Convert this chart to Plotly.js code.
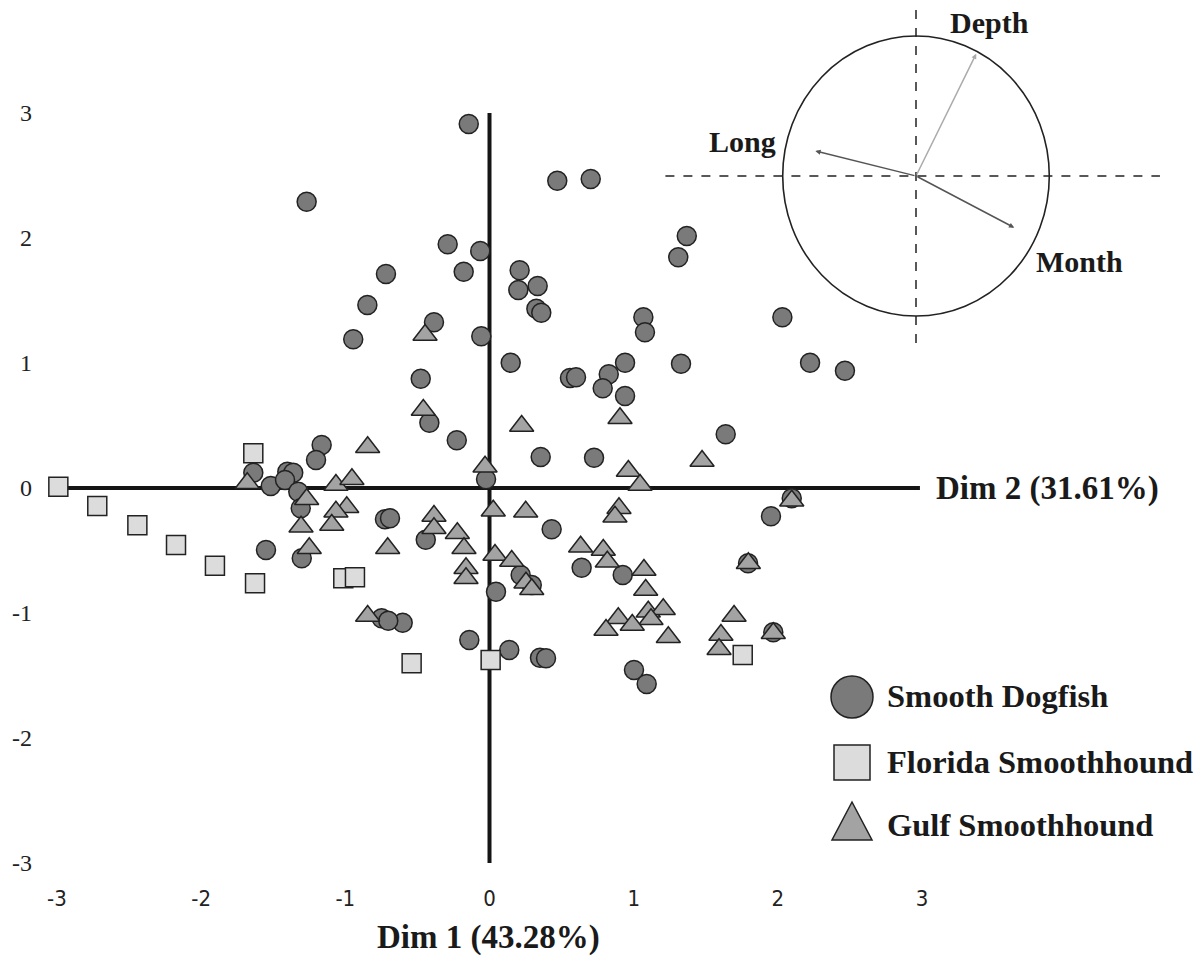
<!DOCTYPE html>
<html>
<head>
<meta charset="utf-8">
<script src="https://cdn.plot.ly/plotly-3.0.1.min.js"></script>
<style>html,body{margin:0;padding:0;background:#fff;}#chart{width:1200px;height:958px;}</style>
</head>
<body>
<div id="chart"></div>
<script>
// ---- Data ----
const dogfishX = [-0.144,-1.268,0.470,0.702,-0.290,-0.064,-0.179,0.209,0.200,0.334,0.325,0.359,1.368,1.309,-0.385,-0.057,-0.477,0.147,0.558,0.600,0.827,0.785,0.940,0.940,1.067,1.078,1.328,2.031,2.223,2.465,-0.718,-0.847,-0.945,-0.417,-0.227,0.355,0.725,1.638,-0.024,2.096,1.952,-0.442,0.431,0.639,0.216,0.293,0.045,0.924,1.793,1.968,-0.602,-0.748,-0.702,-0.140,0.137,0.350,0.392,1.002,1.090,-1.638,-1.517,-1.402,-1.361,-1.418,-1.164,-1.203,-1.326,-1.309,-0.725,-0.690,-1.550,-1.302];
const dogfishY = [2.912,2.290,2.458,2.472,1.950,1.896,1.730,1.742,1.584,1.616,1.434,1.402,2.016,1.846,1.326,1.214,0.874,1.002,0.880,0.886,0.910,0.798,1.002,0.736,1.366,1.246,0.994,1.366,1.002,0.938,1.712,1.464,1.190,0.522,0.382,0.248,0.242,0.430,0.070,-0.082,-0.226,-0.414,-0.330,-0.638,-0.696,-0.776,-0.830,-0.696,-0.602,-1.154,-1.078,-1.042,-1.062,-1.216,-1.296,-1.358,-1.362,-1.456,-1.568,0.122,0.016,0.130,0.122,0.064,0.344,0.224,-0.030,-0.162,-0.250,-0.242,-0.496,-0.562];

const floridaX = [-2.990,-2.720,-2.442,-2.174,-1.904,-1.626,-1.638,-1.014,-0.933,-0.540,0.008,1.756];
const floridaY = [0.010,-0.144,-0.298,-0.456,-0.622,-0.762,0.278,-0.722,-0.714,-1.402,-1.376,-1.336];

const gulfX = [-0.447,-0.459,0.223,0.905,1.474,0.963,1.044,-0.031,2.096,-0.385,-0.385,0.026,0.251,0.898,0.870,-0.223,-0.177,-0.163,-0.163,0.038,0.154,0.253,0.293,0.632,0.789,0.817,1.071,1.083,1.795,1.101,1.205,1.120,0.893,0.990,0.808,1.240,1.696,1.605,1.592,1.968,-0.845,-1.680,-1.268,-1.307,-1.065,-0.954,-0.990,-1.065,-1.094,-1.250,-0.706,-0.845];
const gulfY = [1.224,0.624,0.496,0.558,0.216,0.136,0.024,0.170,-0.102,-0.224,-0.322,-0.182,-0.190,-0.162,-0.230,-0.362,-0.482,-0.642,-0.722,-0.536,-0.584,-0.758,-0.810,-0.470,-0.496,-0.590,-0.656,-0.816,-0.602,-0.990,-0.970,-1.050,-1.042,-1.096,-1.136,-1.194,-1.024,-1.176,-1.290,-1.162,0.326,0.038,-0.090,-0.310,0.024,0.070,-0.154,-0.190,-0.296,-0.482,-0.482,-1.024];

const seriesNames = ["Smooth Dogfish","Florida Smoothhound","Gulf Smoothhound"];

const xTickVals = [-3,-2,-1,0,1,2,3];
const xTickText = ["-3","-2","-1","0","1","2","3"];
const yTickVals = [-3,-2,-1,0,1,2,3];
const yTickText = ["-3","-2","-1","0","1","2","3"];

const dim1Title = "Dim 1 (43.28%)";
const dim2Title = "Dim 2 (31.61%)";

// Correlation circle loadings
const varNames = ["Depth","Long","Month"];
const loadX = [0.452,-0.755,0.737];
const loadY = [0.874,0.179,-0.369];

// ---- Styling ----
const W = 1200, H = 958;
const px = v => v / W;          // pixel -> paper x
const py = v => 1 - v / H;      // pixel -> paper y
const edge = {color:'#222', width:1.5};
const serif = 'Liberation Serif, Times New Roman, serif';
const titleFont = {family:serif, size:33, color:'#1a1a1a', weight:'bold'};
const legendFont = {family:serif, size:32.5, color:'#1a1a1a', weight:'bold'};

const traces = [
  {x:dogfishX, y:dogfishY, name:seriesNames[0], type:'scatter', mode:'markers',
   marker:{symbol:'circle', size:19, color:'#7a7a7a', line:edge}},
  {x:floridaX, y:floridaY, name:seriesNames[1], type:'scatter', mode:'markers',
   marker:{symbol:'square', size:19, color:'#dcdcdc', line:edge}},
  {x:gulfX, y:gulfY, name:seriesNames[2], type:'scatter', mode:'markers',
   marker:{symbol:'triangle-up', size:21, color:'#a3a3a3', line:edge}}
];

const shapes = [
  // main cross axes
  {type:'line', xref:'x', yref:'y', x0:-2.97, x1:2.985, y0:0, y1:0, line:{color:'#151515', width:4}, layer:'below'},
  {type:'line', xref:'x', yref:'y', x0:0, x1:0, y0:-3, y1:3, line:{color:'#151515', width:4}, layer:'below'},
  // correlation circle
  {type:'circle', xref:'x2', yref:'y2', x0:-1, x1:1, y0:-1, y1:1, line:{color:'#222', width:1.6}},
  {type:'line', xref:'x2', yref:'y2', x0:-1.88, x1:1.83, y0:0, y1:0, line:{color:'#222', width:1.5, dash:'dash'}},
  {type:'line', xref:'x2', yref:'y2', x0:0, x1:0, y0:-1.193, y1:1.186, line:{color:'#222', width:1.5, dash:'dash'}},
  // legend symbols
  {type:'circle', xref:'paper', yref:'paper', x0:px(831), x1:px(873), y0:py(718), y1:py(676), fillcolor:'#7a7a7a', line:{color:'#222', width:1.5}},
  {type:'rect', xref:'paper', yref:'paper', x0:px(834), x1:px(870), y0:py(780), y1:py(745), fillcolor:'#dcdcdc', line:{color:'#222', width:1.5}},
  {type:'path', xref:'paper', yref:'paper', path:'M '+px(852)+' '+py(802)+' L '+px(872)+' '+py(840)+' L '+px(832)+' '+py(840)+' Z', fillcolor:'#a3a3a3', line:{color:'#222', width:1.5}}
];

const annotations = [
  {xref:'paper', yref:'paper', x:px(934), y:py(488), text:dim2Title, showarrow:false, xanchor:'left', yanchor:'middle', font:titleFont},
  {xref:'paper', yref:'paper', x:px(488), y:py(937), text:dim1Title, showarrow:false, xanchor:'center', yanchor:'middle', font:titleFont},
  {xref:'paper', yref:'paper', x:px(885), y:py(696), text:seriesNames[0], showarrow:false, xanchor:'left', yanchor:'middle', font:legendFont},
  {xref:'paper', yref:'paper', x:px(885), y:py(762), text:seriesNames[1], showarrow:false, xanchor:'left', yanchor:'middle', font:legendFont},
  {xref:'paper', yref:'paper', x:px(885), y:py(825), text:seriesNames[2], showarrow:false, xanchor:'left', yanchor:'middle', font:legendFont}
];
// loading arrows and labels
const arrowColors = ['#ababab','#555555','#555555'];
const labelPos = [[0.548,1.093],[-1.305,0.243],[1.223,-0.614]];
varNames.forEach((n,i) => {
  annotations.push({xref:'x2', yref:'y2', axref:'x2', ayref:'y2', x:loadX[i], y:loadY[i], ax:0, ay:0,
    text:'', showarrow:true, arrowhead:2, arrowsize:0.7, arrowwidth:1.5, arrowcolor:arrowColors[i], standoff:0});
  annotations.push({xref:'x2', yref:'y2', x:labelPos[i][0], y:labelPos[i][1], text:n, showarrow:false,
    xanchor:'center', yanchor:'middle', font:{family:serif, size:30, color:'#1a1a1a', weight:'bold'}});
});

const layout = {
  width:W, height:H,
  margin:{l:0, r:0, t:0, b:0},
  paper_bgcolor:'#ffffff', plot_bgcolor:'rgba(0,0,0,0)',
  showlegend:false,
  xaxis:{range:[-489.5/144.2, (W-489.5)/144.2], domain:[0,1], anchor:'free', position:(H-883)/H,
    tickvals:xTickVals, ticktext:xTickText, showgrid:false, zeroline:false, showline:false, ticks:'',
    tickfont:{family:'DejaVu Sans Condensed, Liberation Sans Narrow, sans-serif', size:22, color:'#222'}, fixedrange:true},
  yaxis:{range:[(488-H)/125, 488/125], domain:[0,1], anchor:'free', position:32/W,
    tickvals:yTickVals, ticktext:yTickText, showgrid:false, zeroline:false, showline:false, ticks:'',
    tickfont:{family:serif, size:24, color:'#222'}, fixedrange:true},
  xaxis2:{domain:[650/W, 1190/W], range:[(650-916)/133.3, (1190-916)/133.3], anchor:'y2', visible:false, fixedrange:true},
  yaxis2:{domain:[1-350/H, 1], range:[(176-350)/140, 176/140], anchor:'x2', visible:false, fixedrange:true},
  shapes:shapes,
  annotations:annotations
};

Plotly.newPlot('chart', traces, layout, {displayModeBar:false, staticPlot:true});
</script>
</body>
</html>
